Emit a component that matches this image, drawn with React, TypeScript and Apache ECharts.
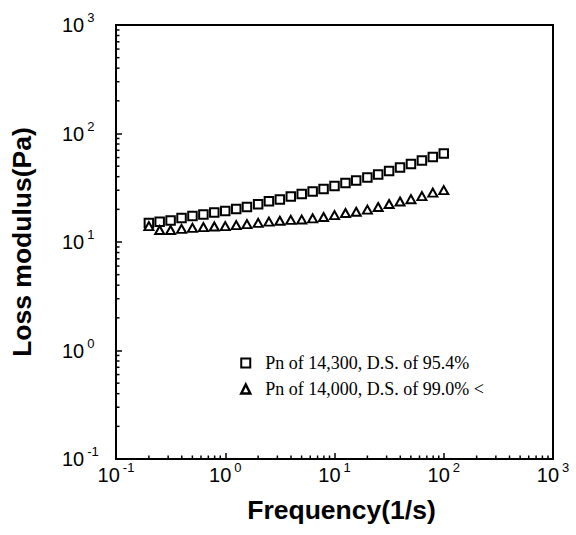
import React, { useEffect, useRef } from "react";
import * as echarts from "echarts";

const frequency = [0.2, 0.251, 0.316, 0.398, 0.501, 0.631, 0.794, 1, 1.26, 1.58, 2, 2.51, 3.16, 3.98, 5.01, 6.31, 7.94, 10, 12.6, 15.8, 20, 25.1, 31.6, 39.8, 50.1, 63.1, 79.4, 100];
const lossA = [15.0, 15.4, 15.8, 16.6, 17.4, 17.9, 18.7, 19.3, 20.1, 21.0, 22.3, 23.7, 24.7, 26.2, 27.7, 29.2, 30.8, 32.8, 35.0, 36.9, 39.3, 41.9, 45.1, 48.6, 52.4, 56.4, 60.7, 65.5];
const lossB = [14.0, 12.9, 12.9, 13.2, 13.5, 13.7, 13.9, 14.0, 14.3, 14.6, 15.0, 15.4, 15.7, 16.0, 16.1, 16.5, 17.0, 17.7, 18.5, 19.0, 19.9, 21.0, 22.4, 23.6, 24.8, 26.5, 28.5, 30.1];
const seriesNames = ["Pn of 14,300, D.S. of 95.4%", "Pn of 14,000, D.S. of 99.0% <"];
const decades = [0.1, 1, 10, 100];
const minorMultipliers = [2, 3, 4, 5, 6, 7, 8, 9];
const axisMin = 0.1;
const axisMax = 1000;

export default function App() {
  const ref = useRef<HTMLDivElement>(null);
  useEffect(() => {
    document.body.style.margin = "0";
    const chart = echarts.init(ref.current!, null, { renderer: "svg" });
    const minorValues: number[] = [];
    decades.forEach((d) => minorMultipliers.forEach((m) => minorValues.push(d * m)));
    const rich = {
      b: { fontSize: 20, lineHeight: 20, fontFamily: "Liberation Sans", color: "#000" },
      s: { fontSize: 13, lineHeight: 14, fontFamily: "Liberation Sans", color: "#000", padding: [0, 0, 15, 3] },
    };
    const fmt = (v: number) => `{b|10}{s|${Math.round(Math.log10(v))}}`;
    chart.setOption({
      animation: false,
      backgroundColor: "#fff",
      grid: { left: 113, right: 23, top: 25, bottom: 76, show: true, borderColor: "#000", borderWidth: 2 },
      legend: {
        orient: "vertical",
        left: 235,
        top: 349,
        itemWidth: 9,
        itemHeight: 9,
        itemGap: 8,
        textStyle: { fontFamily: "Liberation Serif", fontSize: 18, color: "#000", padding: [0, 0, 0, 10] },
        data: [
          { name: seriesNames[0], icon: "rect", itemStyle: { color: "#fff", borderColor: "#000", borderWidth: 2 } },
          { name: seriesNames[1], icon: "triangle", itemStyle: { color: "#fff", borderColor: "#000", borderWidth: 2.5 } },
        ],
      },
      xAxis: {
        type: "log",
        logBase: 10,
        min: axisMin,
        max: axisMax,
        interval: 1,
        name: "Frequency(1/s)",
        nameLocation: "middle",
        nameGap: 37,
        nameTextStyle: { fontFamily: "Liberation Sans", fontWeight: "bold", fontSize: 26.5, color: "#000", padding: [0, 0, 0, 14] },
        axisLine: { lineStyle: { color: "#000", width: 2 } },
        axisTick: { inside: true, length: 6, lineStyle: { color: "#000", width: 1.5 } },
        splitLine: { show: false },
        axisLabel: { formatter: fmt, rich, verticalAlign: "middle", margin: 16, color: "#000" },
      },
      yAxis: {
        type: "log",
        logBase: 10,
        min: axisMin,
        max: axisMax,
        interval: 1,
        name: "Loss modulus(Pa)",
        nameLocation: "middle",
        nameGap: 81,
        nameRotate: 90,
        nameTextStyle: { fontFamily: "Liberation Sans", fontWeight: "bold", fontSize: 26.5, color: "#000" },
        axisLine: { lineStyle: { color: "#000", width: 2 } },
        axisTick: { inside: true, length: 6, lineStyle: { color: "#000", width: 1.5 } },
        splitLine: { show: false },
        axisLabel: { formatter: fmt, rich, align: "left", verticalAlign: "middle", margin: 54, color: "#000" },
      },
      series: [
        {
          name: seriesNames[0],
          type: "scatter",
          symbol: "rect",
          symbolSize: 8.5,
          itemStyle: { color: "#fff", borderColor: "#000", borderWidth: 2, opacity: 1 },
          data: frequency.map((f, i) => [f, lossA[i]]),
          z: 3,
        },
        {
          name: seriesNames[1],
          type: "scatter",
          symbol: "triangle",
          symbolSize: [9, 8],
          itemStyle: { color: "#fff", borderColor: "#000", borderWidth: 2, opacity: 1 },
          data: frequency.map((f, i) => [f, lossB[i]]),
          z: 4,
        },
        {
          type: "custom",
          silent: true,
          clip: false,
          data: minorValues.map((v) => [v, 1]),
          renderItem: (params: any, api: any) => {
            const p = api.coord([api.value(0), axisMin]);
            return { type: "line", shape: { x1: p[0], y1: p[1], x2: p[0], y2: p[1] - 3.5 }, style: { stroke: "#000", lineWidth: 1.5 } };
          },
        },
        {
          type: "custom",
          silent: true,
          clip: false,
          data: minorValues.map((v) => [1, v]),
          renderItem: (params: any, api: any) => {
            const p = api.coord([axisMin, api.value(1)]);
            return { type: "line", shape: { x1: p[0], y1: p[1], x2: p[0] + 3.5, y2: p[1] }, style: { stroke: "#000", lineWidth: 1.5 } };
          },
        },
      ],
    });
    return () => chart.dispose();
  }, []);
  return <div ref={ref} style={{ width: 576, height: 535, position: "absolute", left: 0, top: 0 }} />;
}
